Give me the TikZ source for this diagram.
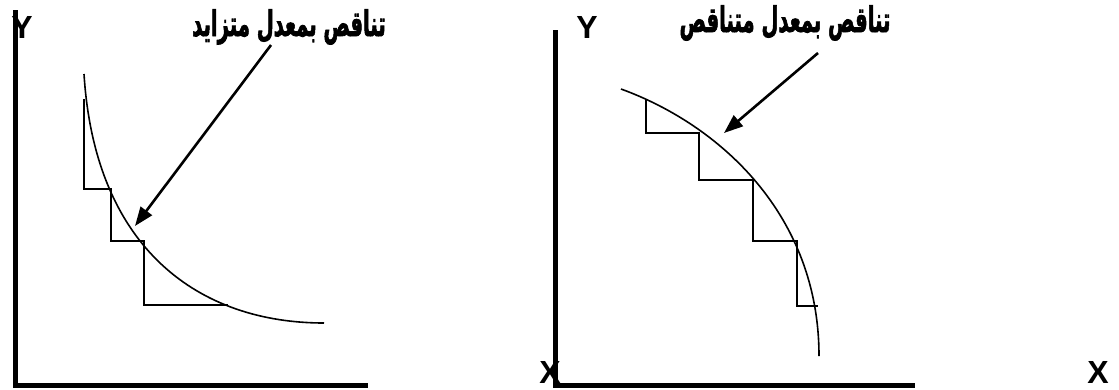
\documentclass[tikz,border=0pt]{standalone}
\usepackage{fontspec}
\usepackage{tikz}
\usetikzlibrary{arrows.meta, positioning, calc}
\setmainfont{Liberation Sans}
\newfontfamily\arabicfont[Script=Arabic, FakeBold=2.5]{DejaVu Sans Bold}
\TeXXeTstate=1

\begin{document}
\begin{tikzpicture}[x=1pt, y=-1pt,
        axisline/.style={line width=5pt},
        curveline/.style={line width=1.6pt},
        stairline/.style={line width=1.5pt},
        pointer/.style={line width=2.6pt, -{Triangle[length=19pt, width=14pt]}},
        axislabel/.style={font=\fontsize{32}{32}\selectfont\bfseries, inner sep=0pt},
        ratelabel/.style={font=\arabicfont\fontsize{28}{28}\selectfont, inner sep=0pt, transform shape, xscale=0.7, yscale=1.25}]
    \useasboundingbox (0,0) rectangle (1119,389);

    % left panel
    \node[axislabel] (yleft) at (22,27) {Y};
    \coordinate (oleft) at (15,385);
    \draw[axisline] (15,10) -- (oleft) -- (368,385);
    \draw[curveline] (84,74) .. controls (95,250) and (200,323) .. (324,323);
    \draw[stairline] (84,99) -- (84,189) -- (111,189) -- (111,241) -- (144,241) -- (144,305) -- (228,305);
    \node[ratelabel] (rateleft) at (289,27) {\beginR تناقص بمعدل متزايد\endR};
    \coordinate (tailleft) at (271,45);
    \coordinate (tipleft) at (135,226);
    \draw[pointer] (tailleft) -- (tipleft);

    % right panel
    \node[axislabel] (xmid) at (550,372) {X};
    \node[axislabel] (xright) at (1098,372) {X};
    \node[axislabel] (yright) at (587,27) {Y};
    \coordinate (oright) at (555,385);
    \draw[axisline] (555,30) -- (oright) -- (915,385);
    \draw[curveline] (621,89) .. controls (720,125) and (819,215) .. (819,356);
    \draw[stairline] (646,99) -- (646,133) -- (699,133) -- (699,180) -- (753,180) -- (753,241) -- (797,241) -- (797,306) -- (818,306);
    \node[ratelabel] (rateright) at (785,23) {\beginR تناقص بمعدل متناقص\endR};
    \coordinate (tailright) at (818,53);
    \coordinate (tipright) at (724,133);
    \draw[pointer] (tailright) -- (tipright);
\end{tikzpicture}
\end{document}
